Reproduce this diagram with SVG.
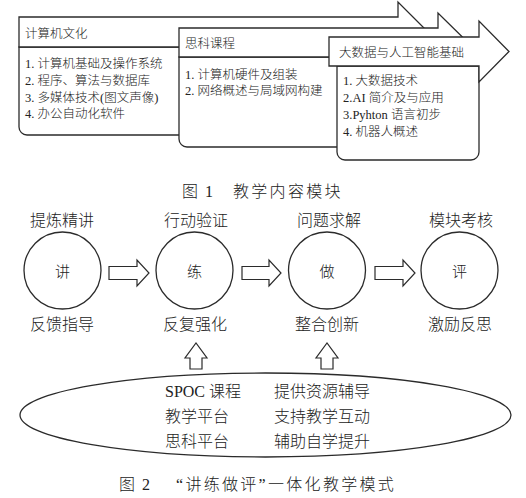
<svg xmlns="http://www.w3.org/2000/svg" width="526" height="498" viewBox="0 0 526 498">
<style>
.shape{fill:#fff;stroke:#2b2b2b;stroke-width:1.3;stroke-linejoin:miter}
.conn{fill:#fff;stroke:#2b2b2b;stroke-width:1.2}
.title{font-family:'Noto Sans CJK SC',sans-serif;font-weight:300;font-size:12.5px;fill:#222}
.item{font-family:'Liberation Serif','Noto Sans CJK SC',serif;font-weight:300;font-size:12.5px;fill:#222}
.lab{font-family:'Noto Sans CJK SC',sans-serif;font-weight:300;font-size:16px;fill:#222;text-anchor:middle}
.cen{font-family:'Noto Sans CJK SC',sans-serif;font-weight:300;font-size:15px;fill:#222;text-anchor:middle}
.ell{font-family:'Liberation Serif','Noto Sans CJK SC',serif;font-weight:300;font-size:16px;fill:#222}
.cap{font-family:'Liberation Serif','Noto Sans CJK SC',serif;font-weight:300;font-size:16px;fill:#222}
</style>
<rect width="526" height="498" fill="#fff"/>

<g id="box-computer-culture">
<path class="shape" d="M19,47 V127 A8,8 0 0 0 27,135 H390 A8,8 0 0 0 398,127 V47 Z"/>
<polygon class="shape" points="19,17 398,17 398,2 428,32 398,62 398,47 19,47"/>
<text class="title" x="25" y="37.5">计算机文化</text>
<text class="item" x="25" y="67.5">1. 计算机基础及操作系统</text>
<text class="item" x="25" y="84.5">2. 程序、算法与数据库</text>
<text class="item" x="25" y="101.5">3. 多媒体技术(图文声像)</text>
<text class="item" x="25" y="118">4. 办公自动化软件</text>
</g>

<g id="box-cisco">
<path class="shape" d="M179,57 V139 A8,8 0 0 0 187,147 H430 A8,8 0 0 0 438,139 V57 Z"/>
<polygon class="shape" points="179,28 438,28 438,13 468,42.5 438,72 438,57 179,57"/>
<text class="title" x="185" y="47.5">思科课程</text>
<text class="item" x="185" y="78.5">1. 计算机硬件及组装</text>
<text class="item" x="185" y="94.5">2. 网络概述与局域网构建</text>
</g>

<g id="box-bigdata-ai">
<path class="shape" d="M337,66 V152 A8,8 0 0 0 345,160 H471 A8,8 0 0 0 479,152 V66 Z"/>
<polygon class="shape" points="329,37 479,37 479,21 509,51.5 479,82 479,66 329,66"/>
<text class="title" x="339" y="56.5">大数据与人工智能基础</text>
<text class="item" x="343" y="84.5">1. 大数据技术</text>
<text class="item" x="343" y="102">2.AI 简介及与应用</text>
<text class="item" x="343" y="119">3.Pyhton 语言初步</text>
<text class="item" x="343" y="135.5">4. 机器人概述</text>
</g>

<text class="cap" y="197"><tspan x="182">图</tspan><tspan x="205">1</tspan><tspan x="233" letter-spacing="2.3">教学内容模块</tspan></text>

<g id="node-jiang">
<text class="lab" x="62" y="226">提炼精讲</text>
<circle class="shape" cx="62.5" cy="270.5" r="38.5"/>
<text class="cen" x="62.5" y="277">讲</text>
<text class="lab" x="62" y="330">反馈指导</text>
</g>
<g id="node-lian">
<text class="lab" x="196" y="226">行动验证</text>
<circle class="shape" cx="194.5" cy="270.5" r="38.5"/>
<text class="cen" x="194.5" y="277">练</text>
<text class="lab" x="195" y="330">反复强化</text>
</g>
<g id="node-zuo">
<text class="lab" x="329" y="226">问题求解</text>
<circle class="shape" cx="327" cy="270.5" r="38.5"/>
<text class="cen" x="327" y="277">做</text>
<text class="lab" x="327" y="330">整合创新</text>
</g>
<g id="node-ping">
<text class="lab" x="461" y="226">模块考核</text>
<circle class="shape" cx="459.5" cy="270.5" r="38.5"/>
<text class="cen" x="459.5" y="277">评</text>
<text class="lab" x="460" y="330">激励反思</text>
</g>

<g id="node-platform">
<ellipse class="shape" cx="265.5" cy="415" rx="245.5" ry="42"/>
<text class="ell" x="165" y="397">SPOC 课程</text>
<text class="ell" x="165" y="422">教学平台</text>
<text class="ell" x="165" y="447">思科平台</text>
<text class="ell" x="274" y="397">提供资源辅导</text>
<text class="ell" x="274" y="422">支持教学互动</text>
<text class="ell" x="274" y="447">辅助自学提升</text>
</g>

<g id="connectors">
<polygon class="conn" points="109,266.5 137,266.5 137,260 149,273 137,286 137,279.5 109,279.5"/>
<polygon class="conn" points="242,266.5 269,266.5 269,260 281,273 269,286 269,279.5 242,279.5"/>
<polygon class="conn" points="375,266.5 403,266.5 403,260 415,273 403,286 403,279.5 375,279.5"/>
<polygon class="conn" points="190,369 190,358 185,358 196,343 207,358 202,358 202,369"/>
<polygon class="conn" points="321,369 321,358 316,358 327,343 338,358 333,358 333,369"/>
</g>

<text class="cap" y="490"><tspan x="119">图</tspan><tspan x="142">2</tspan><tspan x="176" letter-spacing="2.3">“讲练做评”一体化教学模式</tspan></text>
</svg>
